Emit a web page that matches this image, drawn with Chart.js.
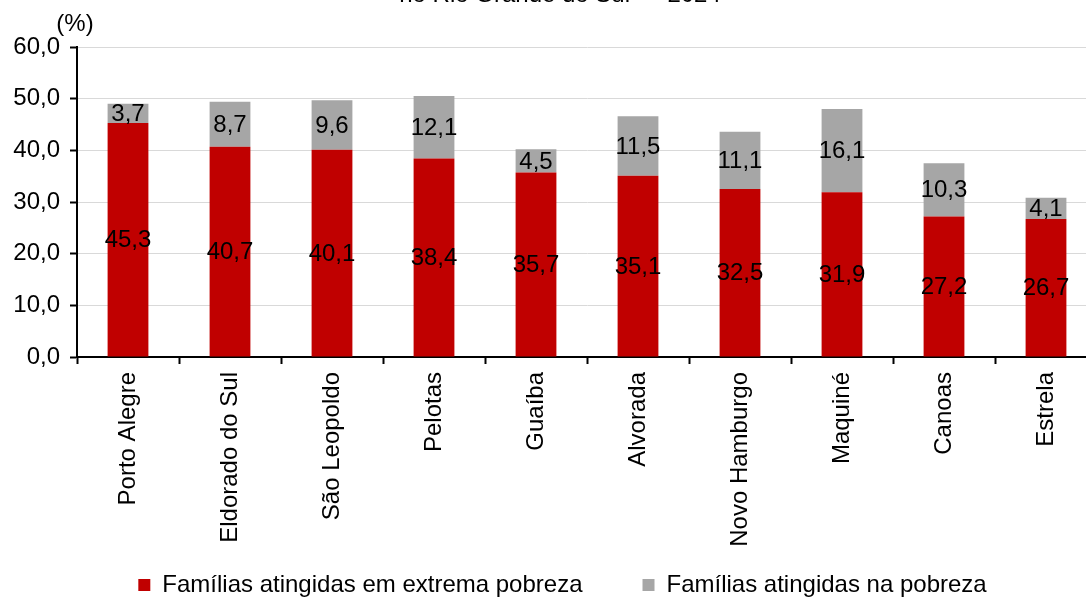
<!DOCTYPE html>
<html>
<head>
<meta charset="utf-8">
<script src="https://cdn.jsdelivr.net/npm/chart.js@4/dist/chart.umd.min.js"></script>
<style>
  html, body { margin: 0; padding: 0; background: #fff; overflow: hidden; }
  #wrap { position: relative; width: 1110px; height: 597px; }
</style>
</head>
<body>
<div id="wrap"><canvas id="chart" width="1110" height="597"></canvas></div>
<script>
// Municípios e percentuais
const municipios = ['Porto Alegre', 'Eldorado do Sul', 'São Leopoldo', 'Pelotas', 'Guaíba',
    'Alvorada', 'Novo Hamburgo', 'Maquiné', 'Canoas', 'Estrela'];
const extremaPobreza = [45.3, 40.7, 40.1, 38.4, 35.7, 35.1, 32.5, 31.9, 27.2, 26.7];
const pobreza = [3.7, 8.7, 9.6, 12.1, 4.5, 11.5, 11.1, 16.1, 10.3, 4.1];
const serieNomes = ['Famílias atingidas em extrema pobreza', 'Famílias atingidas na pobreza'];
const tituloVisivel = 'no Rio Grande do Sul — 2024';
const unidade = '(%)';

const FONT = 'Liberation Sans, Arial, sans-serif';
const FS = 24;
const fmt = v => v.toFixed(1).replace('.', ',');

// Rótulos no centro de cada segmento
const valueLabels = {
    id: 'valueLabels',
    afterDatasetsDraw(chart) {
        const ctx = chart.ctx;
        ctx.save();
        ctx.font = FS + 'px ' + FONT;
        ctx.fillStyle = '#000';
        ctx.textAlign = 'center';
        ctx.textBaseline = 'middle';
        chart.data.datasets.forEach((ds, i) => {
            chart.getDatasetMeta(i).data.forEach((bar, j) => {
                const y = (bar.y + bar.base) / 2;
                ctx.fillText(fmt(ds.data[j]), bar.x, y + 1);
            });
        });
        ctx.restore();
    }
};

// Título cortado no topo e unidade do eixo
const extras = {
    id: 'extras',
    // eixos mais estreitos que os rótulos: alarga a área de recorte dos rótulos
    afterLayout(chart) {
        const x = chart.scales.x;
        x.bottom = x.top + 200;
        chart.scales.y.left = 0;
    },
    afterDraw(chart) {
        const ctx = chart.ctx;
        ctx.save();
        ctx.font = FS + 'px ' + FONT;
        ctx.fillStyle = '#000';
        ctx.textAlign = 'center';
        ctx.textBaseline = 'alphabetic';
        ctx.fillText(tituloVisivel, 560, 2);
        ctx.fillText(unidade, 75, 31);
        ctx.restore();
    }
};

new Chart(document.getElementById('chart'), {
    type: 'bar',
    data: {
        labels: municipios,
        datasets: [
            {
                label: serieNomes[0],
                data: extremaPobreza,
                backgroundColor: '#C00000',
                barPercentage: 0.4,
                categoryPercentage: 1
            },
            {
                label: serieNomes[1],
                data: pobreza,
                backgroundColor: '#A6A6A6',
                barPercentage: 0.4,
                categoryPercentage: 1
            }
        ]
    },
    options: {
        responsive: false,
        animation: false,
        layout: { padding: { top: 47, left: 28, right: 13, bottom: -10 } },
        scales: {
            x: {
                stacked: true,
                afterFit: s => { s.height = 156; },
                grid: { drawOnChartArea: false, tickLength: 7, tickColor: '#000', tickWidth: 2 },
                border: { color: '#000', width: 2 },
                ticks: {
                    color: '#000',
                    font: { family: FONT, size: FS },
                    maxRotation: 90,
                    minRotation: 90,
                    padding: 8
                }
            },
            y: {
                stacked: true,
                min: 0,
                max: 60,
                afterFit: s => { s.width = 49; },
                grid: { color: '#D9D9D9', tickLength: 7, tickColor: '#000', tickWidth: 2 },
                border: { color: '#000', width: 2 },
                ticks: {
                    stepSize: 10,
                    color: '#000',
                    font: { family: FONT, size: FS },
                    padding: 10,
                    callback: v => fmt(v)
                }
            }
        },
        plugins: {
            legend: {
                position: 'bottom',
                labels: {
                    color: '#000',
                    font: { family: FONT, size: FS },
                    boxWidth: 12,
                    boxHeight: 12,
                    padding: 60
                }
            },
            tooltip: { enabled: false }
        }
    },
    plugins: [valueLabels, extras]
});
</script>
</body>
</html>
